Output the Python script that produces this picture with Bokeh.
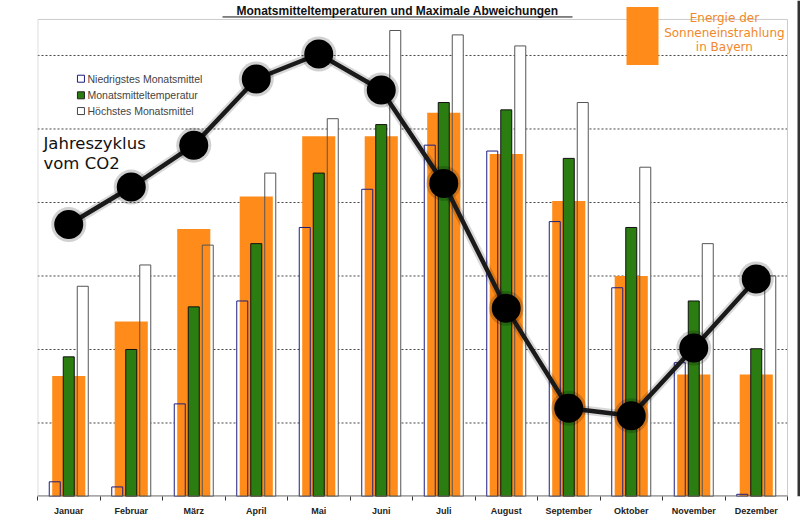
from bokeh.plotting import figure
from bokeh.models import Range1d, FixedTicker, ColumnDataSource
from bokeh.core.properties import value
from bokeh.embed import file_html
from bokeh.resources import INLINE

months = ["Januar", "Februar", "März", "April", "Mai", "Juni", "Juli",
          "August", "September", "Oktober", "November", "Dezember"]
t_min = [1.0, 0.65, 6.3, 13.3, 18.3, 20.9, 23.9, 23.5, 18.7, 14.2, 9.1, 0.15]
t_mean = [9.5, 10.0, 12.9, 17.2, 22.0, 25.3, 26.8, 26.3, 23.0, 18.3, 13.3, 10.05]
t_max = [14.3, 15.75, 17.1, 22.0, 25.7, 31.7, 31.4, 30.65, 26.8, 22.4, 17.2, 15.0]
sun = [8.2, 11.9, 18.2, 20.4, 24.5, 24.5, 26.1, 23.3, 20.1, 15.0, 8.3, 8.3]
co2 = [18.5, 21.05, 23.9, 28.4, 30.1, 27.65, 21.3, 12.8, 6.0, 5.5, 10.1, 14.8]

xc = [i + 0.5 for i in range(len(months))]
src = ColumnDataSource(dict(
    xc=xc,
    xmin=[x - 0.224 for x in xc],
    xmax=[x + 0.224 for x in xc],
    t_min=t_min, t_mean=t_mean, t_max=t_max, sun=sun, co2=co2,
))

p = figure(width=800, height=519, output_backend="svg", toolbar_location=None,
           x_range=Range1d(0, 12.208), y_range=Range1d(0, 33.74),
           y_axis_location=None, min_border_left=37, min_border_right=0,
           min_border_top=0, min_border_bottom=23)
p.outline_line_color = None
p.background_fill_color = "white"
p.border_fill_color = "white"

# grid
p.xgrid.visible = False
p.ygrid.ticker = FixedTicker(ticks=[5, 10, 15, 20, 25, 30])
p.ygrid.grid_line_color = None

# x axis
ax = p.xaxis[0]
ax.ticker = FixedTicker(ticks=xc, minor_ticks=list(range(13)))
ax.major_label_overrides = {x: m for x, m in zip(xc, months)}
ax.major_tick_line_color = None
ax.major_tick_out = 0
ax.major_tick_in = 0
ax.minor_tick_out = 4
ax.minor_tick_in = 0
ax.minor_tick_line_color = "#333333"
ax.axis_line_color = None
ax.major_label_text_font = "Liberation Sans"
ax.major_label_text_font_style = "bold"
ax.major_label_text_font_size = "9px"
ax.major_label_text_color = "#222222"
ax.major_label_standoff = 5

# dotted grid lines drawn within the plot box
for g in [5, 10, 15, 20, 25, 30]:
    p.line([0, 12], [g, g], line_color="#444444", line_dash="2 2", line_width=1)

# plot box and baseline
p.line([0.005, 0.005, 12.0, 12.0], [0, 32.45, 32.45, 0], line_color="#cccccc", line_width=1)

bw = 0.176
# white fills of min/max bars
p.vbar(x="xmin", top="t_min", width=bw, source=src, fill_color="white", line_color=None)
p.vbar(x="xmax", top="t_max", width=bw, source=src, fill_color="white", line_color=None)
# sun energy bars
p.vbar(x="xc", top="sun", width=0.53, source=src, fill_color="#ff8c1a", line_color=None)
# mean temperature
p.vbar(x="xc", top="t_mean", width=bw, source=src, fill_color="#2b7d12", line_color="#111111", line_width=1)
# min / max outlines
p.vbar(x="xmin", top="t_min", width=bw, source=src, fill_color=None, line_color="#1c1c80", line_width=1)
p.vbar(x="xmax", top="t_max", width=bw, source=src, fill_color=None, line_color="#555555", line_width=1)

p.line([0, 12], [0.02, 0.02], line_color="#555555", line_width=1.2)

# CO2 cycle line (blurred look)
p.line("xc", "co2", source=src, line_color="black", line_width=9, line_alpha=0.15)
p.line("xc", "co2", source=src, line_color="#1a1a1a", line_width=4.5)
p.scatter("xc", "co2", source=src, size=35, fill_color="black", fill_alpha=0.18, line_color=None)
p.scatter("xc", "co2", source=src, size=29, fill_color="black", line_color=None)

# title with underline
p.text(x=[5.76], y=[33.03], text=["Monatsmitteltemperaturen und Maximale Abweichungen"],
       text_font=value("Liberation Sans"), text_font_style="bold", text_font_size="12px",
       text_align="center", text_baseline="middle", text_color="#111111")
p.line([2.96, 8.56], [32.62, 32.62], line_color="#111111", line_width=1)

# legend (top-left)
leg_y = [28.42, 27.29, 26.22]
leg_txt = ["Niedrigstes Monatsmittel", "Monatsmitteltemperatur", "Höchstes Monatsmittel"]
leg_fill = ["white", "#2b7d12", "white"]
leg_line = ["#1c1c80", "#222222", "#444444"]
p.scatter(x=[0.695] * 3, y=leg_y, marker="square", size=7, fill_color=leg_fill, line_color=leg_line)
p.text(x=[0.8] * 3, y=leg_y, text=leg_txt, text_font=value("Liberation Sans"),
       text_font_size="10.5px", text_baseline="middle", text_color="#444444")

# CO2 label
p.text(x=[0.096, 0.096], y=[23.98, 22.62], text=["Jahreszyklus", "vom CO2"],
       text_font=value("DejaVu Sans"), text_font_size="16.5px", text_baseline="middle",
       text_color="#111111")

# sun energy legend (top-right)
p.quad(left=[9.424], right=[9.936], bottom=[29.35], top=[33.3], fill_color="#ff8c1a", line_color=None)
p.text(x=[10.99] * 3, y=[32.57, 31.51, 30.6], text=["Energie der", "Sonneneinstrahlung", "in Bayern"],
       text_font=value("DejaVu Sans"), text_font_size="12px", text_align="center",
       text_baseline="middle", text_color="#f0882a")

# dark right edge
p.quad(left=[12.16], right=[12.21], bottom=[0], top=[33.74], fill_color="#333333", line_color=None)

open("out.html", "w").write(file_html(p, INLINE))
